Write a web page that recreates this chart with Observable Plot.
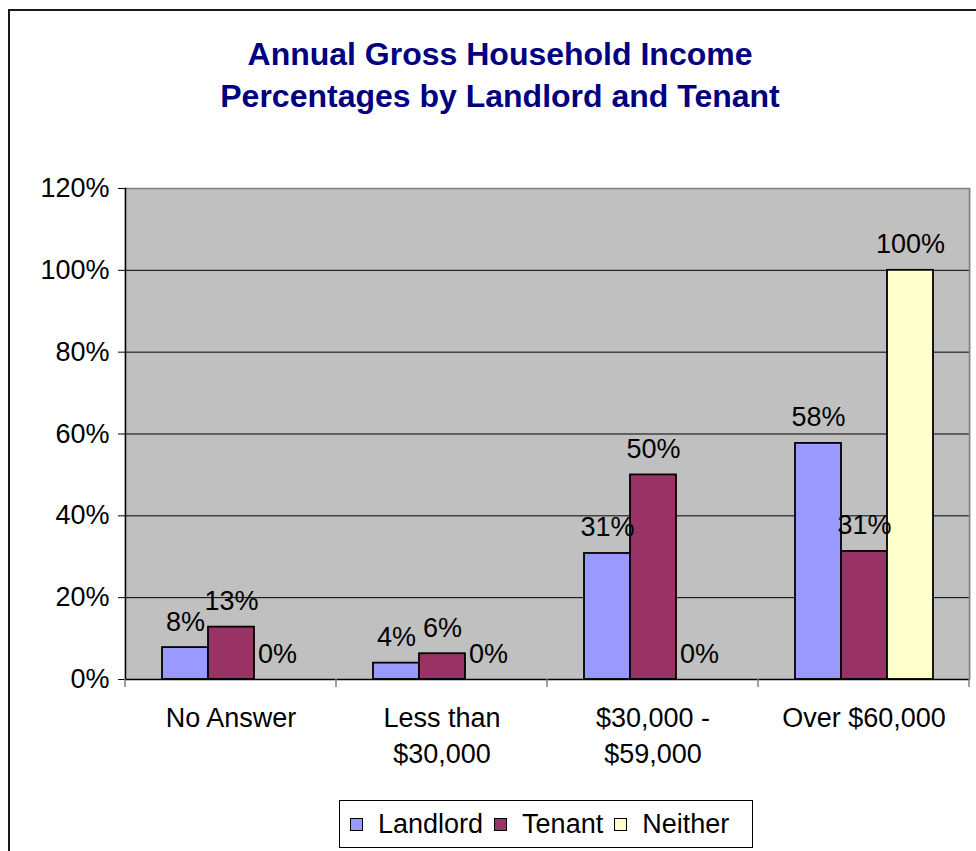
<!DOCTYPE html>
<html>
<head>
<meta charset="utf-8">
<script src="https://cdn.jsdelivr.net/npm/d3@7"></script>
<script src="https://cdn.jsdelivr.net/npm/@observablehq/plot@0.6"></script>
<style>
  html, body { margin: 0; padding: 0; background: #fff; }
  body { width: 976px; height: 851px; overflow: hidden; position: relative;
         font-family: Arial, "Liberation Sans", sans-serif; }
  #border { position: absolute; left: 8px; top: 9px; width: 1000px; height: 900px;
            border: 2px solid #1a1a1a; box-sizing: border-box; }
  #title { position: absolute; left: 0; top: 33px; width: 1000px; text-align: center;
           color: #000080; font-weight: bold; font-size: 32px; line-height: 42px; }
  #chart { position: absolute; left: 0; top: 150px; }
  #legend { position: absolute; left: 339px; top: 800px; width: 414px; height: 48px;
            border: 1px solid #000; box-sizing: border-box; background: #fff;
            display: flex; align-items: center; padding-left: 10px;
            font-size: 27px; color: #000; }
  #legend .sw { width: 11px; height: 11px; border: 1.5px solid #000; margin-right: 15px; }
  #legend .lb { margin-right: 11px; }
</style>
</head>
<body>
<div id="border"></div>
<div id="title">Annual Gross Household Income<br>Percentages by Landlord and Tenant</div>
<div id="chart"></div>
<div id="legend"></div>
<script>
// ---- data ----
const categories = ["No Answer", "Less than $30,000", "$30,000 - $59,000", "Over $60,000"];
const categoryLabels = ["No Answer", "Less than\n$30,000", "$30,000 -\n$59,000", "Over $60,000"];
const series = ["Landlord", "Tenant", "Neither"];
const colors = ["#9999FF", "#993366", "#FFFFCC"];
const landlord = [7.8, 4.0, 30.8, 57.7];
const tenant = [12.8, 6.3, 50.0, 31.3];
const neither = [0, 0, 0, 100];
const yTicks = [0, 20, 40, 60, 80, 100, 120];

const seriesValues = [landlord, tenant, neither];
const rows = categories.flatMap((c, i) =>
  series.map((s, j) => ({category: c, series: s, value: seriesValues[j][i]})));
const labelOf = new Map(categories.map((c, i) => [c, categoryLabels[i]]));
const fmt = d3.format(".0%");

const chart = Plot.plot({
  width: 976,
  height: 630,
  marginTop: 38,
  marginBottom: 101,
  marginLeft: 125,
  marginRight: 7,
  style: {fontFamily: "Arial, 'Liberation Sans', sans-serif", fontSize: "27px", color: "#000", background: "transparent", overflow: "visible"},
  fx: {domain: categories, padding: 0, axis: null, label: null},
  x: {domain: series, paddingInner: 0, paddingOuter: 0.75, axis: null},
  y: {domain: [0, 120], axis: null},
  color: {domain: series, range: colors},
  marks: [
    Plot.frame({fill: "#C0C0C0", stroke: "none", insetLeft: -1, insetRight: -1}),
    Plot.gridY({ticks: yTicks.filter(t => t > 0 && t < 120), stroke: "#000", strokeOpacity: 1, strokeWidth: 1}),
    Plot.ruleY([120], {stroke: "#808080", strokeWidth: 1.5}),
    Plot.frame({anchor: "right", facetAnchor: "right", stroke: "#808080", strokeWidth: 1.5}),
    Plot.barY(rows, {fx: "category", x: "series", y: "value", fill: "series", stroke: "#000", strokeWidth: 1.8}),
    Plot.text(rows, {fx: "category", x: "series", y: "value", text: d => fmt(d.value / 100),
      dy: -17, lineAnchor: "bottom", fontSize: 27, fill: "#000"}),
    Plot.ruleY([0], {stroke: "#000", strokeWidth: 1.5}),
    Plot.frame({anchor: "left", facetAnchor: "left", stroke: "#000", strokeWidth: 1.5}),
    Plot.axisY({ticks: yTicks, tickFormat: d => d + "%", tickSize: 7, tickPadding: 9, label: null, fontSize: 27, stroke: "#000"}),
    Plot.text(categories, {fx: d => d, text: d => labelOf.get(d), frameAnchor: "bottom",
      lineAnchor: "top", dy: 21, lineHeight: 1.36, fontSize: 27, fill: "#000"})
  ]
});
document.getElementById("chart").append(chart);

// category boundary ticks below the x axis, placed from the plot's own scales
const fxS = chart.scale("fx");
const yS = chart.scale("y");
const y0 = yS.apply(0);
const bounds = categories.map(c => fxS.apply(c)).concat([fxS.apply(categories[categories.length - 1]) + fxS.bandwidth]);
d3.select(chart).append("g")
  .attr("stroke", "#808080").attr("stroke-width", 1.5)
  .selectAll("line").data(bounds).join("line")
  .attr("x1", d => d).attr("x2", d => d)
  .attr("y1", y0).attr("y2", y0 + 8);

// legend
const legend = d3.select("#legend");
series.forEach((s, i) => {
  legend.append("div").attr("class", "sw").style("background", colors[i]);
  legend.append("div").attr("class", "lb").text(s);
});
</script>
</body>
</html>
